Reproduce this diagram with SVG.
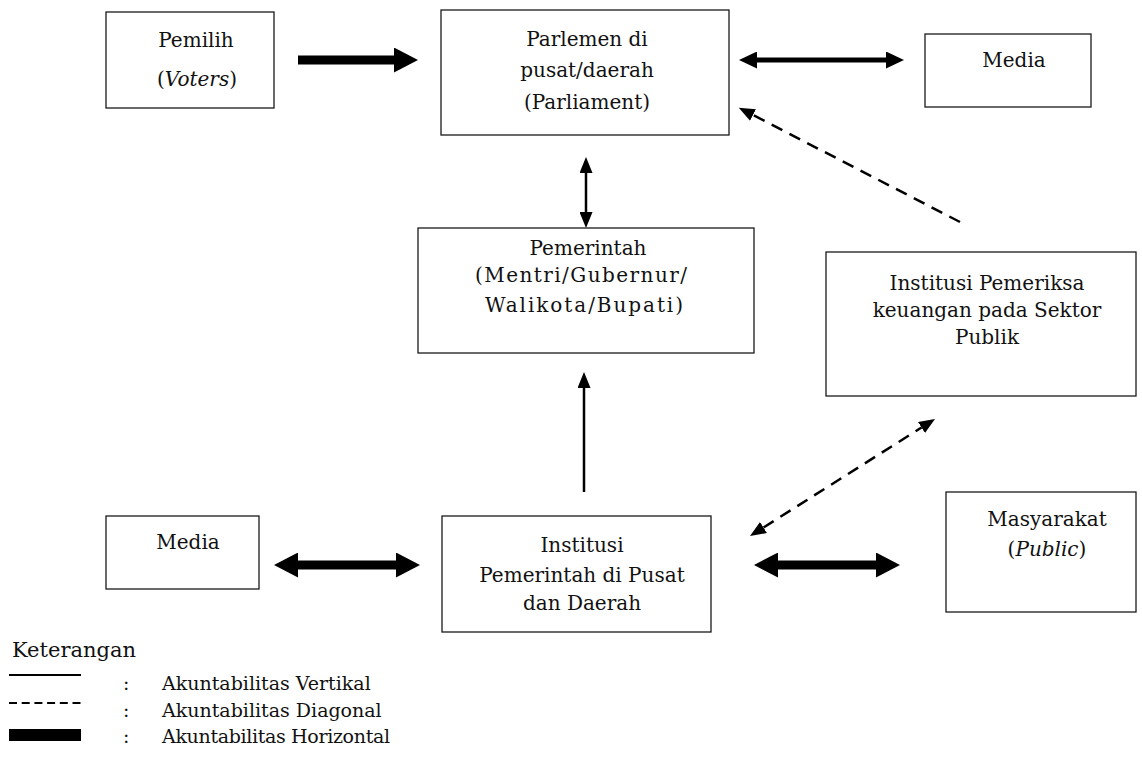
<svg xmlns="http://www.w3.org/2000/svg" width="1142" height="759" viewBox="0 0 1142 759">
<style>
.box{fill:#fff;stroke:#1a1a1a;stroke-width:1.3}
.t{font-family:"DejaVu Serif","Liberation Serif",serif;font-size:20px;fill:#111;text-anchor:middle}
.l{font-family:"DejaVu Serif","Liberation Serif",serif;font-size:19px;fill:#111}
.k{font-family:"DejaVu Serif","Liberation Serif",serif;font-size:21px;fill:#111}
.thin{stroke:#000;stroke-width:2.5;fill:none}
.dash{stroke:#000;stroke-width:2.5;fill:none;stroke-dasharray:12 8}
.thick5{stroke:#000;stroke-width:5;fill:none}
.thick9{stroke:#000;stroke-width:9;fill:none}
</style>
<defs>
<marker id="hThin" markerUnits="userSpaceOnUse" markerWidth="16" markerHeight="13" refX="0" refY="6.5" orient="auto-start-reverse"><path d="M0,0 L16,6.5 L0,13 z" fill="#000"/></marker>
<marker id="h5" markerUnits="userSpaceOnUse" markerWidth="18" markerHeight="17" refX="0" refY="8.5" orient="auto-start-reverse"><path d="M0,0 L18,8.5 L0,17 z" fill="#000"/></marker>
<marker id="h9" markerUnits="userSpaceOnUse" markerWidth="24" markerHeight="25" refX="0" refY="12.5" orient="auto-start-reverse"><path d="M0,0 L24,12.5 L0,25 z" fill="#000"/></marker>
</defs>

<g id="connectors">
<line class="thick9" x1="298" y1="60" x2="394" y2="60" marker-end="url(#h9)"/>
<line class="thick5" x1="757" y1="60" x2="886" y2="60" marker-start="url(#h5)" marker-end="url(#h5)"/>
<line class="dash" x1="960" y1="222" x2="753" y2="115" marker-end="url(#hThin)"/>
<line class="thin" x1="586" y1="173" x2="586" y2="212" marker-start="url(#hThin)" marker-end="url(#hThin)"/>
<line class="thin" x1="584" y1="492" x2="584" y2="388" marker-end="url(#hThin)"/>
<line class="dash" x1="763.5" y1="527.5" x2="921.5" y2="427.5" marker-start="url(#hThin)" marker-end="url(#hThin)"/>
<line class="thick9" x1="298" y1="565" x2="396" y2="565" marker-start="url(#h9)" marker-end="url(#h9)"/>
<line class="thick9" x1="778" y1="565" x2="876" y2="565" marker-start="url(#h9)" marker-end="url(#h9)"/>
</g>

<g id="pemilih">
<rect class="box" x="106" y="12" width="168" height="96"/>
<text class="t" x="196" y="47">Pemilih</text>
<text class="t" x="197" y="86">(<tspan font-style="italic">Voters</tspan>)</text>
</g>

<g id="parlemen">
<rect class="box" x="441" y="10" width="288" height="125"/>
<text class="t" x="587" y="46">Parlemen di</text>
<text class="t" x="587" y="77">pusat/daerah</text>
<text class="t" x="587" y="109">(Parliament)</text>
</g>

<g id="media-top">
<rect class="box" x="925" y="34" width="166" height="73"/>
<text class="t" x="1014" y="67">Media</text>
</g>

<g id="pemerintah">
<rect class="box" x="418" y="228" width="336" height="125"/>
<text class="t" x="588" y="255">Pemerintah</text>
<text class="t" x="581" y="282" textLength="212" lengthAdjust="spacing">(Mentri/Gubernur/</text>
<text class="t" x="584" y="312" textLength="198" lengthAdjust="spacing">Walikota/Bupati)</text>
</g>

<g id="pemeriksa">
<rect class="box" x="826" y="252" width="310" height="144"/>
<text class="t" x="987" y="290">Institusi Pemeriksa</text>
<text class="t" x="987" y="317">keuangan pada Sektor</text>
<text class="t" x="987" y="344">Publik</text>
</g>

<g id="media-bottom">
<rect class="box" x="106" y="516" width="153" height="73"/>
<text class="t" x="188" y="549">Media</text>
</g>

<g id="institusi">
<rect class="box" x="442" y="516" width="269" height="116"/>
<text class="t" x="582" y="552">Institusi</text>
<text class="t" x="582" y="582">Pemerintah di Pusat</text>
<text class="t" x="582" y="610">dan Daerah</text>
</g>

<g id="masyarakat">
<rect class="box" x="946" y="492" width="190" height="120"/>
<text class="t" x="1047" y="526">Masyarakat</text>
<text class="t" x="1047" y="556">(<tspan font-style="italic">Public</tspan>)</text>
</g>

<g id="legend">
<text class="k" x="12" y="657">Keterangan</text>
<line x1="9" y1="675" x2="81" y2="675" stroke="#000" stroke-width="2"/>
<line x1="9" y1="703" x2="81" y2="703" stroke="#000" stroke-width="2" stroke-dasharray="8 4.7"/>
<rect x="9" y="729" width="72" height="12" fill="#000"/>
<text class="l" x="123" y="690">:</text>
<text class="l" x="162" y="690">Akuntabilitas Vertikal</text>
<text class="l" x="123" y="717">:</text>
<text class="l" x="162" y="717">Akuntabilitas Diagonal</text>
<text class="l" x="123" y="743">:</text>
<text class="l" x="162" y="743" textLength="228" lengthAdjust="spacing">Akuntabilitas Horizontal</text>
</g>
</svg>
